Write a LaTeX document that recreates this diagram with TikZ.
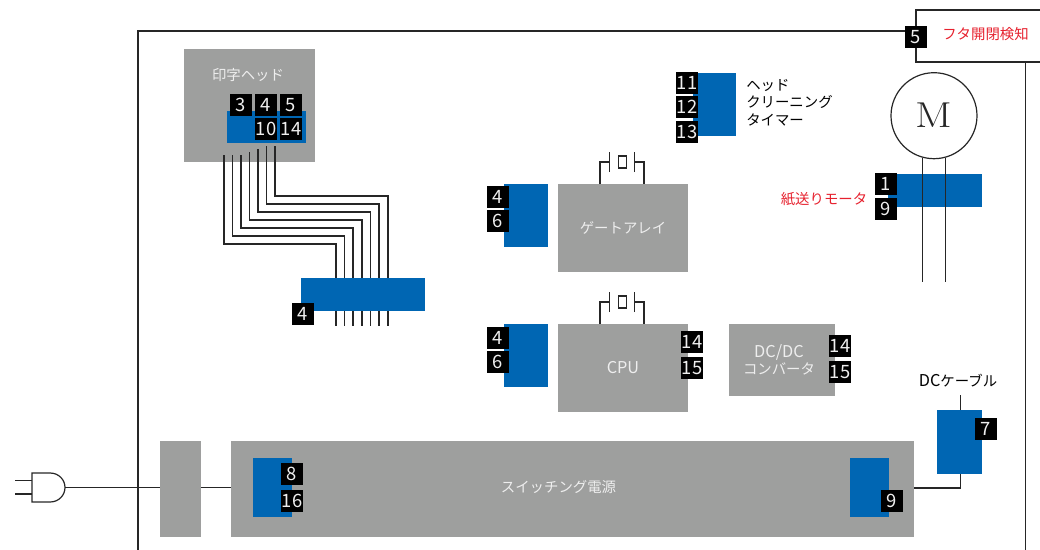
\documentclass[tikz,border=0pt]{standalone}
\usepackage{fontspec}
\setsansfont{Noto Sans CJK JP}
\definecolor{blockgray}{HTML}{9E9F9E}
\definecolor{partblue}{HTML}{0066B3}
\definecolor{labelred}{HTML}{E6212E}
\definecolor{labelwhite}{HTML}{EEEEEE}
\newcommand{\latintext}[1]{{\fontsize{12.2}{13.1}\selectfont #1}}
\tikzset{
    size/.style 2 args={minimum width=#1*0.75pt,minimum height=#2*0.75pt},
    block/.style={fill=blockgray,text=labelwhite,font=\sffamily\fontsize{10.8}{13.1}\selectfont},
    part/.style={fill=partblue},
    badge/.style={fill=black,text=labelwhite,minimum size=16.5pt,font=\sffamily\fontsize{13.8}{13.8}\selectfont},
    wire/.style={black!85,line width=0.9pt},
    label/.style={font=\sffamily\fontsize{10.8}{13.1}\selectfont}
}
\begin{document}
\begin{tikzpicture}[x=0.75pt,y=-0.75pt]
            \tikzstyle{every node}+=[inner sep=0pt]
                \useasboundingbox (0,0) rectangle (1040,550);
                % frame and lid switch
                \coordinate (framebl) at (138,550);
                \coordinate (frametl) at (138,31);
                \coordinate (frametr) at (916,31);
                \coordinate (framebr) at (1025.5,550);
                \coordinate (lidtr) at (1040,10);
                \coordinate (lidbr) at (1040,62);
                \coordinate (lidtl) at (916,10);
                \coordinate (lidbl) at (916,62);
                \draw [wire] (framebl) -- (frametl) -- (frametr);
                \draw [wire] (lidtr) -- (lidtl) -- (lidbl) -- (lidbr);
                \draw [wire] (framebr) -- (framebr |- lidbr);
                \node [label,text=labelred] (lidlabel) at (985.5,34.5) {フタ開閉検知};
                % head and flat cable
                \node [block,size={131}{113}] (head) at (249.5,105.5) {};
                \node [label,text=labelwhite] (headlabel) at (248,75) {印字ヘッド};
                \node [part,size={79}{32}] (headpart) at (266.5,127) {};
                \foreach \nm/\xa/\ya/\ym/\xb in {a/224/155/244/336,b/232.5/155/236/344.5,c/241/155/228/353,d/249.5/152/220/362,e/258/149/212/370.5,f/266.5/146/204/379,g/275/146/196/388}{
                    \coordinate (wire\nm start) at (\xa,\ya);
                    \coordinate (wire\nm bend) at (\xb,\ym);
                    \coordinate (wire\nm end) at (\xb,325.5);
                    \draw [wire] (wire\nm start) |- (wire\nm bend) -- (wire\nm end);
                }
                \node [part,size={124}{33}] (flatpart) at (363,294.5) {};
                % timer
                \node [part,size={43}{63}] (timerpart) at (714.5,104.5) {};
                \node [label,anchor=west,align=left] (timerlabel) at (746,102.5) {ヘッド\\クリーニング\\タイマー};
                % gate array and cpu
                \node [block,size={130}{88}] (gate) at (623,228) {ゲートアレイ};
                \node [block,size={130}{88}] (cpu) at (623,368) {\latintext{CPU}};
                \foreach \nm/\dy in {gate/0,cpu/140}{
                    \node [part,size={44}{63}] (\nm part) at (526,215.5+\dy) {};
                    \node [draw,wire,size={8.5}{12}] (\nm xtal) at (622.5,162+\dy) {};
                    \coordinate (\nm lefta) at (600,184+\dy);
                    \coordinate (\nm leftb) at (609.5,162+\dy);
                    \coordinate (\nm righta) at (644,184+\dy);
                    \coordinate (\nm rightb) at (634.5,162+\dy);
                    \draw [wire] (\nm lefta) |- (\nm leftb);
                    \draw [wire] (\nm righta) |- (\nm rightb);
                    \draw [wire] ([yshift=-7.5pt]\nm leftb) -- ([yshift=7.5pt]\nm leftb);
                    \draw [wire] ([yshift=-7.5pt]\nm rightb) -- ([yshift=7.5pt]\nm rightb);
                }
                \node [block,size={106}{72}] (dcdc) at (782,360) {};
                \node [label,text=labelwhite,align=center] (dcdclabel) at (779,360) {\latintext{DC/DC}\\コンバータ};
                % motor
                \node [part,size={94}{33}] (motorpart) at (935,190.5) {};
                \node [draw,circle,wire,minimum size=64.5pt,font=\rmfamily\fontsize{27}{27}\selectfont] (motor) at (934,115.7) {\scalebox{1.2}[1]{M}};
                \coordinate (motorend) at (934,282);
                \draw [wire] (motor.-105) -- (motor.-105 |- motorend);
                \draw [wire] (motor.-75) -- (motor.-75 |- motorend);
                \node [label,text=labelred] (motorlabel) at (824,199.5) {紙送りモータ};
                % power
                \node [block,size={41}{96}] (filter) at (180.5,489) {};
                \node [block,size={683}{96}] (psu) at (572.5,489) {};
                \node [label,text=labelwhite] (psulabel) at (558.5,487) {スイッチング電源};
                \node [part,size={39}{59}] (psuleft) at (272.5,487.5) {};
                \node [part,size={39}{59}] (psuright) at (869.5,487.5) {};
                \node [part,size={45}{64}] (cable) at (959.5,442) {};
                \node [label] (cablelabel) at (958,381) {\latintext{DC}ケーブル};
                \coordinate (cabletop) at (960.7,395);
                \coordinate (cablebot) at (960.7,474);
                \coordinate (cablebend) at (960.7,488);
                \draw [wire] (cabletop) -- (cabletop |- cable.north);
                \draw [wire] (cablebot) -- (cablebend) -- (cablebend -| psu.east);
                % plug
                \coordinate (plugtip) at (65,487.5);
                \coordinate (plugtop) at (32,473);
                \coordinate (plugbot) at (32,502);
                \coordinate (prongtop) at (15,480.5);
                \coordinate (prongbot) at (15,494);
                \draw [wire] (plugtop) -- (50,473) .. controls (59,473) and (65,480) .. (plugtip) .. controls (65,495) and (59,502) .. (50,502) -- (plugbot) -- cycle;
                \draw [wire] (prongtop) -- (prongtop -| plugtop);
                \draw [wire] (prongbot) -- (prongbot -| plugtop);
                \draw [wire] (plugtip) -- (plugtip -| filter.west);
                \draw [wire] (plugtip -| filter.east) -- (plugtip -| psu.west);
                % numbered marks
                \foreach \nm/\px/\py/\tx in {lid/916/37/5,heada/241/105/3,headb/266/105/4,headc/291/105/5,headd/266/129/10,heade/291/129/14,flat/303/314/4,timera/687/83/11,timerb/687/107/12,timerc/687/132/13,gatea/498/197/4,gateb/498/221/6,cpua/498/338/4,cpub/498/362/6,cpuc/692/342/14,cpud/692/368/15,dca/840/346/14,dcb/840/372/15,motora/886/184/1,motorb/886/209/9,psua/292/474/8,psub/292/501/16,psuc/892/501/9,cablemark/986/429/7}{
                    \node [badge] (mark\nm) at (\px,\py) {\tx};
                }
            \end{tikzpicture}
\end{document}
